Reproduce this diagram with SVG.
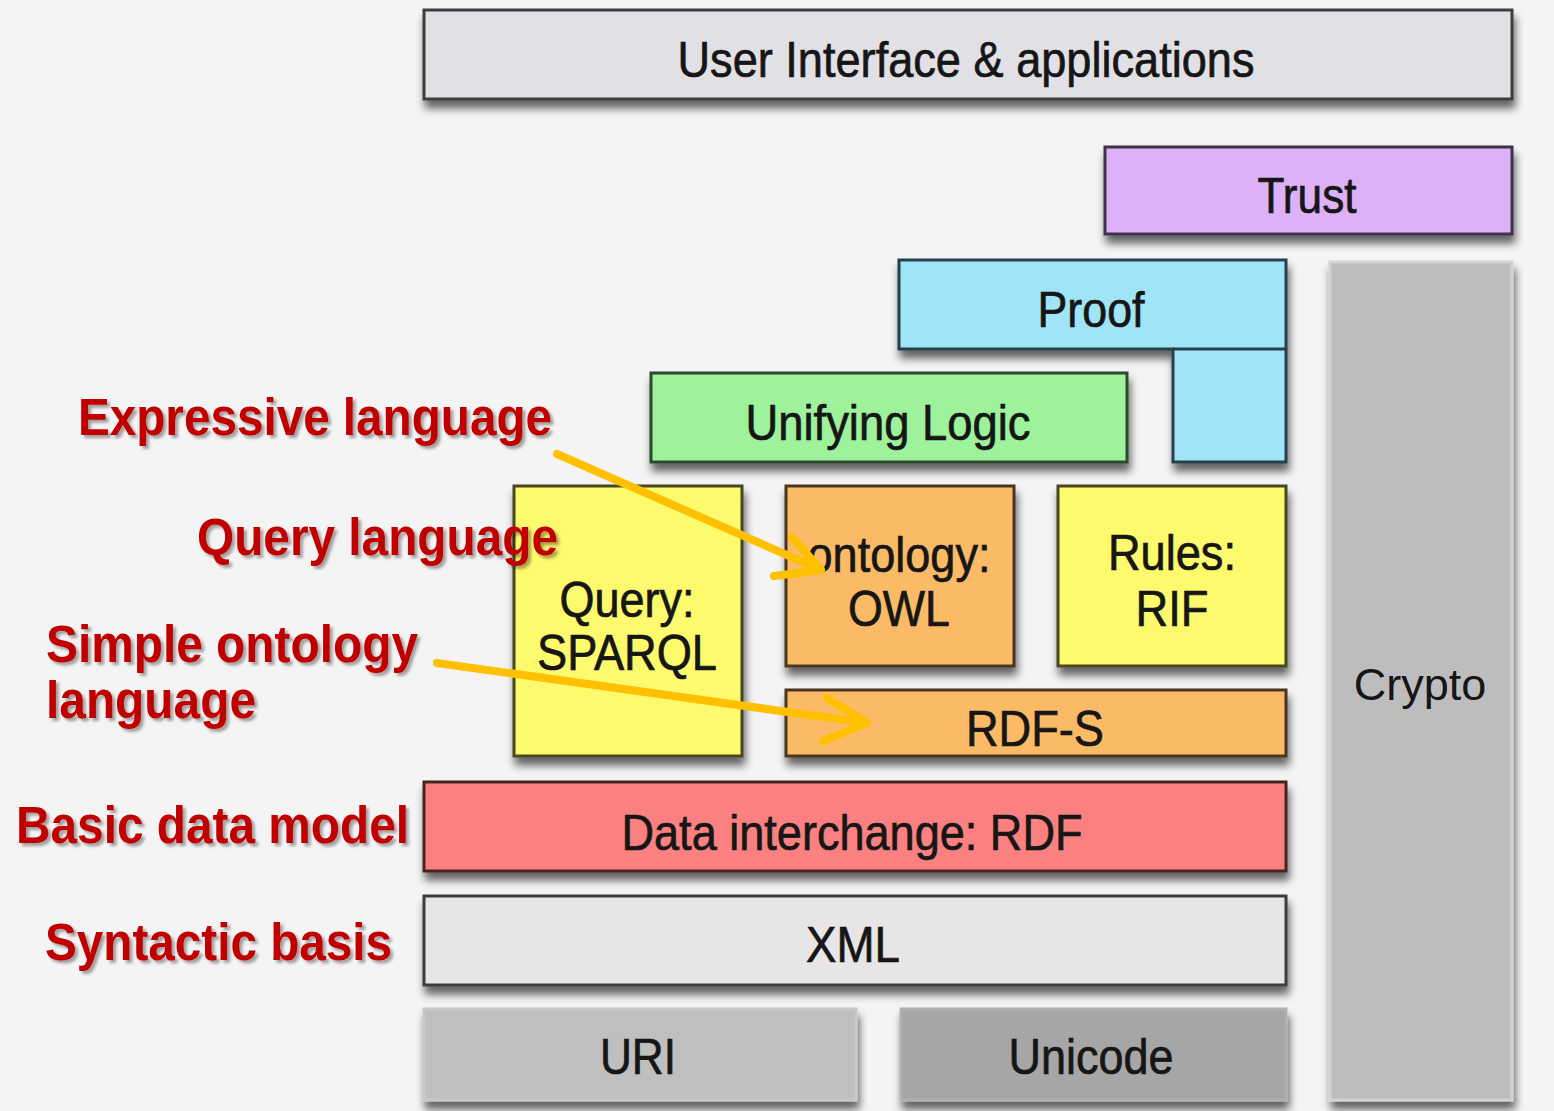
<svg xmlns="http://www.w3.org/2000/svg" width="1554" height="1111" viewBox="0 0 1554 1111">
<defs>
<filter id="sh" x="-10%" y="-20%" width="120%" height="170%">
<feGaussianBlur in="SourceAlpha" stdDeviation="4.5"/>
<feOffset dx="2" dy="8" result="b"/>
<feComponentTransfer><feFuncA type="linear" slope="0.6"/></feComponentTransfer>
<feMerge><feMergeNode/><feMergeNode in="SourceGraphic"/></feMerge>
</filter>
<filter id="tsh" x="-5%" y="-20%" width="110%" height="150%">
<feGaussianBlur in="SourceAlpha" stdDeviation="1.5"/>
<feOffset dx="3" dy="3"/>
<feComponentTransfer><feFuncA type="linear" slope="0.35"/></feComponentTransfer>
<feMerge><feMergeNode/><feMergeNode in="SourceGraphic"/></feMerge>
</filter>
</defs>
<style>
.box{stroke-width:3;filter:url(#sh)}
.t{font-family:"Liberation Sans",Arial,sans-serif;font-size:50px;fill:#161616;stroke:#161616;stroke-width:0.7;text-anchor:middle}
.c{font-family:"Liberation Sans",Arial,sans-serif;font-size:45px;fill:#161616;text-anchor:middle}
.r{font-family:"Liberation Sans",Arial,sans-serif;font-size:51px;font-weight:bold;fill:#c00000}
.arr{fill:none;stroke:#ffc000;stroke-width:8;stroke-linecap:round;stroke-linejoin:round}
</style>
<rect width="1554" height="1111" fill="#f4f4f4"/>

<g id="ui"><rect class="box" x="424" y="10" width="1088" height="89" fill="#e1e0e5" stroke="#3c3c3c"/><text class="t" x="966" y="77" textLength="577" lengthAdjust="spacingAndGlyphs">User Interface &amp; applications</text></g>
<g id="trust"><rect class="box" x="1105" y="147" width="407" height="87" fill="#dcb1f7" stroke="#3e3148"/><text class="t" x="1307" y="213" textLength="99" lengthAdjust="spacingAndGlyphs">Trust</text></g>
<g id="crypto"><rect class="box" x="1330" y="262" width="182" height="838" fill="#bdbdbd" stroke="#d2d2d2" stroke-width="3"/><text class="c" x="1420" y="700">Crypto</text></g>
<g id="proof"><path class="box" d="M899 260 H1286 V462 H1173 V349 H899 Z" fill="#a0e5f7" stroke="#27414a"/><line x1="1173" y1="349" x2="1286" y2="349" stroke="#27414a" stroke-width="3"/><text class="t" x="1091" y="327" textLength="107" lengthAdjust="spacingAndGlyphs">Proof</text></g>
<g id="logic"><rect class="box" x="651" y="373" width="476" height="89" fill="#9df29b" stroke="#2d4a2d"/><text class="t" x="888" y="440" textLength="285" lengthAdjust="spacingAndGlyphs">Unifying Logic</text></g>
<g id="query"><rect class="box" x="514" y="486" width="228" height="270" fill="#fdfa6e" stroke="#48471f"/><text class="t" x="627" y="617" textLength="135" lengthAdjust="spacingAndGlyphs">Query:</text><text class="t" x="627" y="670" textLength="180" lengthAdjust="spacingAndGlyphs">SPARQL</text></g>
<g id="owl"><rect class="box" x="786" y="486" width="228" height="180" fill="#fbbb66" stroke="#4a3420"/><text class="t" x="899" y="572" textLength="183" lengthAdjust="spacingAndGlyphs">ontology:</text><text class="t" x="899" y="626" textLength="102" lengthAdjust="spacingAndGlyphs">OWL</text></g>
<g id="rules"><rect class="box" x="1058" y="486" width="228" height="180" fill="#fdfa6e" stroke="#48471f"/><text class="t" x="1172" y="570" textLength="128" lengthAdjust="spacingAndGlyphs">Rules:</text><text class="t" x="1172" y="626" textLength="73" lengthAdjust="spacingAndGlyphs">RIF</text></g>
<g id="rdfs"><rect class="box" x="786" y="690" width="500" height="66" fill="#fbbb66" stroke="#4a3420"/><text class="t" x="1035" y="746" textLength="138" lengthAdjust="spacingAndGlyphs">RDF-S</text></g>
<g id="rdf"><rect class="box" x="424" y="782" width="862" height="89" fill="#fb8080" stroke="#4c2424"/><text class="t" x="852" y="850" textLength="461" lengthAdjust="spacingAndGlyphs">Data interchange: RDF</text></g>
<g id="xml"><rect class="box" x="424" y="896" width="862" height="89" fill="#e8e5e7" stroke="#3c3c3c"/><text class="t" x="853" y="962" textLength="94" lengthAdjust="spacingAndGlyphs">XML</text></g>
<g id="uri"><rect class="box" x="424" y="1009" width="432" height="91" fill="#bfbfbf" stroke="#c8c8c8"/><text class="t" x="638" y="1074" textLength="76" lengthAdjust="spacingAndGlyphs">URI</text></g>
<g id="unicode"><rect class="box" x="901" y="1009" width="385" height="91" fill="#a6a6a6" stroke="#b0b0b0"/><text class="t" x="1091" y="1074" textLength="165" lengthAdjust="spacingAndGlyphs">Unicode</text></g>

<g id="labels" filter="url(#tsh)">
<text class="r" x="78" y="435" textLength="474" lengthAdjust="spacingAndGlyphs">Expressive language</text>
<text class="r" x="197" y="555" textLength="361" lengthAdjust="spacingAndGlyphs">Query language</text>
<text class="r" x="46" y="662" textLength="372" lengthAdjust="spacingAndGlyphs">Simple ontology</text>
<text class="r" x="46" y="718" textLength="210" lengthAdjust="spacingAndGlyphs">language</text>
<text class="r" x="16" y="843" textLength="393" lengthAdjust="spacingAndGlyphs">Basic data model</text>
<text class="r" x="45" y="960" textLength="347" lengthAdjust="spacingAndGlyphs">Syntactic basis</text>
</g>

<g id="connectors">
<path class="arr" d="M557 454 L821 570 M792 537 L821 570 L774 576"/>
<path class="arr" d="M437 663 L867 723 M827 698 L867 723 L823 741"/>
</g>
</svg>
